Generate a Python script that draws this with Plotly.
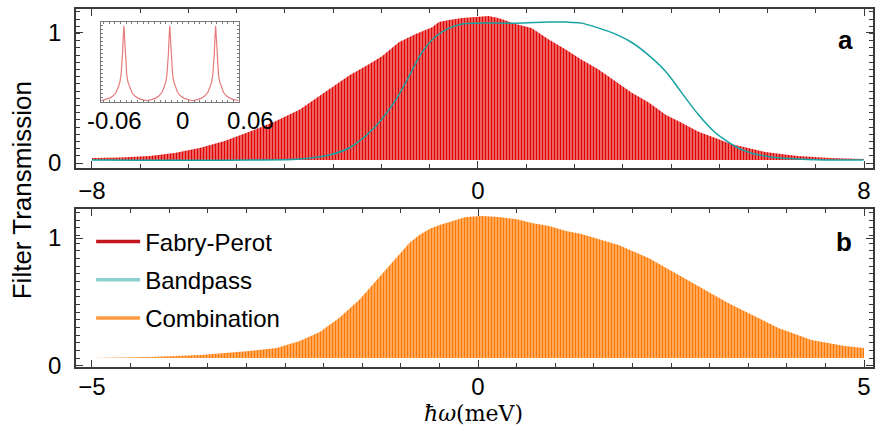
import plotly.graph_objects as go

# ---------------- data ----------------
# panel a : Fabry-Perot comb envelope (meV, transmission)
fp_x = [-8.00, -7.42, -6.80, -6.29, -5.77, -5.25, -4.74, -4.22, -3.70, -3.19,
        -2.67, -2.26, -1.99, -1.64, -1.29, -0.95, -0.81, -0.60, -0.33, -0.05,
        0.22, 0.42, 0.78, 1.11, 1.46, 1.81, 2.14, 2.50, 2.85, 3.18,
        3.54, 3.89, 4.22, 4.57, 4.92, 5.24, 5.60, 5.95, 6.28, 6.63,
        7.31, 7.99]
fp_y = [0.038, 0.042, 0.054, 0.077, 0.115, 0.169, 0.238, 0.315, 0.408, 0.538,
        0.669, 0.754, 0.815, 0.923, 0.985, 1.038, 1.077, 1.092, 1.108, 1.115,
        1.123, 1.108, 1.062, 1.031, 0.946, 0.869, 0.792, 0.715, 0.623, 0.538,
        0.462, 0.369, 0.308, 0.238, 0.192, 0.146, 0.115, 0.085, 0.069, 0.054,
        0.038, 0.031]
fp_base_x = [-8.0, 8.0]
fp_base_y = [0.023, 0.023]

# panel a : bandpass filter
bp_x = [-8.0, -4.74, -3.70, -3.08, -2.67, -2.15, -1.70, -1.43, -1.16, -0.87,
        -0.60, -0.33, -0.05, 0.78, 1.46, 1.81, 2.14, 2.50, 2.85, 3.18,
        3.54, 3.89, 4.22, 4.57, 4.92, 5.12, 5.39, 5.66, 5.95, 6.28,
        6.63, 7.31, 7.99]
bp_y = [0.023, 0.023, 0.031, 0.062, 0.115, 0.269, 0.485, 0.662, 0.846, 0.969,
        1.031, 1.062, 1.069, 1.069, 1.077, 1.077, 1.069, 1.031, 0.985, 0.923,
        0.823, 0.700, 0.538, 0.369, 0.231, 0.177, 0.115, 0.077, 0.054, 0.038,
        0.031, 0.023, 0.023]

# panel b : combination comb envelope
comb_x = [-5.00, -4.25, -3.60, -2.96, -2.61, -2.31, -2.05, -1.80, -1.54, -1.28,
          -1.00, -0.89, -0.76, -0.63, -0.50, -0.37, -0.16, 0.05, 0.27, 0.49,
          0.70, 0.92, 1.14, 1.34, 1.52, 1.82, 2.21, 2.60, 2.86, 3.24,
          3.50, 3.89, 4.32, 4.75, 5.00]
comb_y = [0.062, 0.070, 0.086, 0.117, 0.141, 0.195, 0.266, 0.375, 0.516, 0.695,
          0.891, 0.961, 1.023, 1.070, 1.102, 1.125, 1.164, 1.172, 1.164, 1.148,
          1.117, 1.094, 1.055, 1.031, 1.000, 0.945, 0.844, 0.711, 0.617, 0.492,
          0.414, 0.297, 0.203, 0.156, 0.141]
comb_base_x = [-5.0, 5.0]
comb_base_y = [0.062, 0.062]

# inset : single Fabry-Perot resonances
inset_x = [-0.0724, -0.0676, -0.0646, -0.0618, -0.0591, -0.0571, -0.0556, -0.0546, -0.0539, -0.0533,
           -0.0527, -0.0521, -0.0515, -0.0509, -0.0503, -0.0496, -0.0486, -0.0471, -0.0451, -0.0424,
           -0.0396, -0.0366, -0.0318,
           -0.0270, -0.0240, -0.0212, -0.0185, -0.0165, -0.0150, -0.0140, -0.0133, -0.0127, -0.0121,
           -0.0115, -0.0109, -0.0103, -0.0097, -0.0090, -0.0080, -0.0065, -0.0045, -0.0018, 0.0010,
           0.0040, 0.0088,
           0.0136, 0.0166, 0.0194, 0.0221, 0.0241, 0.0256, 0.0266, 0.0273, 0.0279, 0.0285,
           0.0291, 0.0297, 0.0303, 0.0309, 0.0316, 0.0326, 0.0341, 0.0361, 0.0388, 0.0416,
           0.0446, 0.0494]
inset_y = [0.0125, 0.03, 0.045, 0.071, 0.115, 0.18, 0.25, 0.34, 0.45, 0.60,
           0.80, 0.95, 0.80, 0.60, 0.45, 0.34, 0.25, 0.18, 0.115, 0.071,
           0.045, 0.03, 0.0125,
           0.03, 0.045, 0.071, 0.115, 0.18, 0.25, 0.34, 0.45, 0.60, 0.80,
           0.95, 0.80, 0.60, 0.45, 0.34, 0.25, 0.18, 0.115, 0.071, 0.045,
           0.03, 0.0125,
           0.03, 0.045, 0.071, 0.115, 0.18, 0.25, 0.34, 0.45, 0.60, 0.80,
           0.95, 0.80, 0.60, 0.45, 0.34, 0.25, 0.18, 0.115, 0.071, 0.045,
           0.03, 0.0125]

ticks_a = [-8, 0, 8]
ticks_b = [-5, 0, 5]
ticks_y = [0, 1]
inset_ticks = [-0.06, 0, 0.06]
inset_tick_text = ["-0.06", "0", "0.06"]

legend_names = ["Fabry-Perot", "Bandpass", "Combination"]
legend_colors = ["#c3161e", "#8dd0d0", "#ff9a40"]

# ---------------- style ----------------
FONT = "Liberation Sans"
AX = "#3a3a3a"
RED = "#e00000"
RED_BG = "#fcd4d4"
ORANGE = "#ff7800"
ORANGE_BG = "#ffe2c4"
TEAL = "#17a3a3"

xa_range = [-8.33, 8.186]
ya_range = [-0.038, 1.177]
xb_range = [-5.207, 5.116]
yb_range = [-0.008, 1.227]
xi_range = [-0.0724, 0.0494]
yi_range = [0.0, 1.0]
xi_dom = [0.0313, 0.2040]
yi_dom = [0.741, 0.9645]

fig = go.Figure()

# panel a
fig.add_trace(go.Scatter(x=fp_base_x, y=fp_base_y, mode="lines", line=dict(width=0),
                         xaxis="x", yaxis="y", showlegend=False, hoverinfo="skip"))
fig.add_trace(go.Scatter(x=fp_x, y=fp_y, mode="lines", line=dict(width=0, color=RED),
                         fill="tonexty", fillcolor=RED_BG,
                         fillpattern=dict(shape="|", size=3, solidity=0.7,
                                          fgcolor=RED, bgcolor=RED_BG, fgopacity=1),
                         xaxis="x", yaxis="y", showlegend=False))
fig.add_trace(go.Scatter(x=bp_x, y=bp_y, mode="lines", line=dict(width=1.5, color=TEAL, shape="spline"),
                         xaxis="x", yaxis="y", showlegend=False))

# panel b
fig.add_trace(go.Scatter(x=comb_base_x, y=comb_base_y, mode="lines", line=dict(width=0),
                         xaxis="x2", yaxis="y2", showlegend=False, hoverinfo="skip"))
fig.add_trace(go.Scatter(x=comb_x, y=comb_y, mode="lines", line=dict(width=0, color=ORANGE),
                         fill="tonexty", fillcolor=ORANGE_BG,
                         fillpattern=dict(shape="|", size=3, solidity=0.7,
                                          fgcolor=ORANGE, bgcolor=ORANGE_BG, fgopacity=1),
                         xaxis="x2", yaxis="y2", showlegend=False))

# inset
fig.add_trace(go.Scatter(x=inset_x, y=inset_y, mode="lines", line=dict(width=1.2, color="#e77a7a"),
                         xaxis="x3", yaxis="y3", showlegend=False))

# legend entries
for i, (name, col) in enumerate(zip(legend_names, legend_colors)):
    fig.add_trace(go.Scatter(x=[None], y=[None], mode="lines", name=name,
                             line=dict(width=3.5, color=col), legendgroup=f"g{i}",
                             xaxis="x2", yaxis="y2"))

def xaxis(rng, anchor, domain, tickvals, minor_dt, standoff):
    return dict(range=rng, domain=domain, anchor=anchor, tickvals=tickvals,
                showline=True, mirror="allticks", linecolor=AX, linewidth=1.5,
                ticks="inside", ticklen=7, tickcolor=AX, tickwidth=1.2,
                minor=dict(dtick=minor_dt, tick0=0, ticks="inside", ticklen=4, tickcolor=AX),
                showgrid=False, zeroline=False, ticklabelstandoff=standoff,
                tickfont=dict(size=24, family=FONT, color="black"))

def yaxis(rng, anchor, domain, minor_dt):
    return dict(range=rng, domain=domain, anchor=anchor, tickvals=ticks_y,
                showline=True, mirror="allticks", linecolor=AX, linewidth=1.5,
                ticks="inside", ticklen=7, tickcolor=AX, tickwidth=1.2,
                minor=dict(dtick=minor_dt, tick0=0, ticks="inside", ticklen=4, tickcolor=AX),
                showgrid=False, zeroline=False, ticklabelstandoff=8,
                tickfont=dict(size=24, family=FONT, color="black"))

xi_span = xi_range[1] - xi_range[0]
annotations = [
    dict(text="Filter Transmission", textangle=-90, x=-0.0676, y=0.494, xref="paper", yref="paper",
         xanchor="center", yanchor="middle",
         showarrow=False, font=dict(size=26, family=FONT, color="black")),
    dict(text="<i>ħω</i>(meV)", x=0.4985, y=-0.1676, xref="paper", yref="paper",
         xanchor="center", yanchor="bottom", borderpad=0,
         showarrow=False, font=dict(size=22, family="DejaVu Serif", color="black")),
    dict(text="<b>a</b>", x=0.966, y=0.913, xref="paper", yref="paper", showarrow=False,
         xanchor="center", yanchor="middle",
         font=dict(size=26, family=FONT, color="black")),
    dict(text="<b>b</b>", x=0.963, y=0.349, xref="paper", yref="paper", showarrow=False,
         xanchor="center", yanchor="middle",
         font=dict(size=26, family=FONT, color="black")),
]
for v, t in zip(inset_ticks, inset_tick_text):
    frac = (v - xi_range[0]) / xi_span
    annotations.append(dict(text=t, x=xi_dom[0] + frac * (xi_dom[1] - xi_dom[0]), y=yi_dom[0] - 0.008,
                            xref="paper", yref="paper", xanchor="center", yanchor="top", showarrow=False,
                            font=dict(size=24, family=FONT, color="black")))

fig.update_layout(
    width=876, height=428,
    margin=dict(l=76, r=1, t=9, b=61),
    paper_bgcolor="white", plot_bgcolor="white",
    font=dict(family=FONT, size=24, color="black"),
    xaxis=xaxis(xa_range, "y", [0, 1], ticks_a, 1, 0),
    yaxis=yaxis(ya_range, "x", [0.5559, 1.0], 0.055),
    xaxis2=xaxis(xb_range, "y2", [0, 1], ticks_b, 0.5, -3),
    yaxis2=yaxis(yb_range, "x2", [0.0, 0.4413], 0.06),
    xaxis3=dict(range=xi_range, domain=xi_dom, anchor="y3", showline=True, mirror="allticks",
                linecolor="#7a7a7a", linewidth=1, ticks="inside", ticklen=2, tickcolor="#7a7a7a",
                dtick=0.005, showticklabels=False, showgrid=False, zeroline=False),
    yaxis3=dict(range=yi_range, domain=yi_dom, anchor="x3", showline=True, mirror="allticks",
                linecolor="#7a7a7a", linewidth=1, ticks="inside", ticklen=2, tickcolor="#7a7a7a",
                dtick=0.05, showticklabels=False, showgrid=False, zeroline=False),
    legend=dict(x=0.019, y=0.412, xanchor="left", yanchor="top", bgcolor="rgba(0,0,0,0)",
                font=dict(size=24, family=FONT, color="black"), tracegroupgap=4,
                itemwidth=44, traceorder="grouped"),
    annotations=annotations,
)

fig.write_html("out.html", config={"displayModeBar": False},
               post_script="document.body.style.margin='0';document.body.style.overflow='hidden';")
